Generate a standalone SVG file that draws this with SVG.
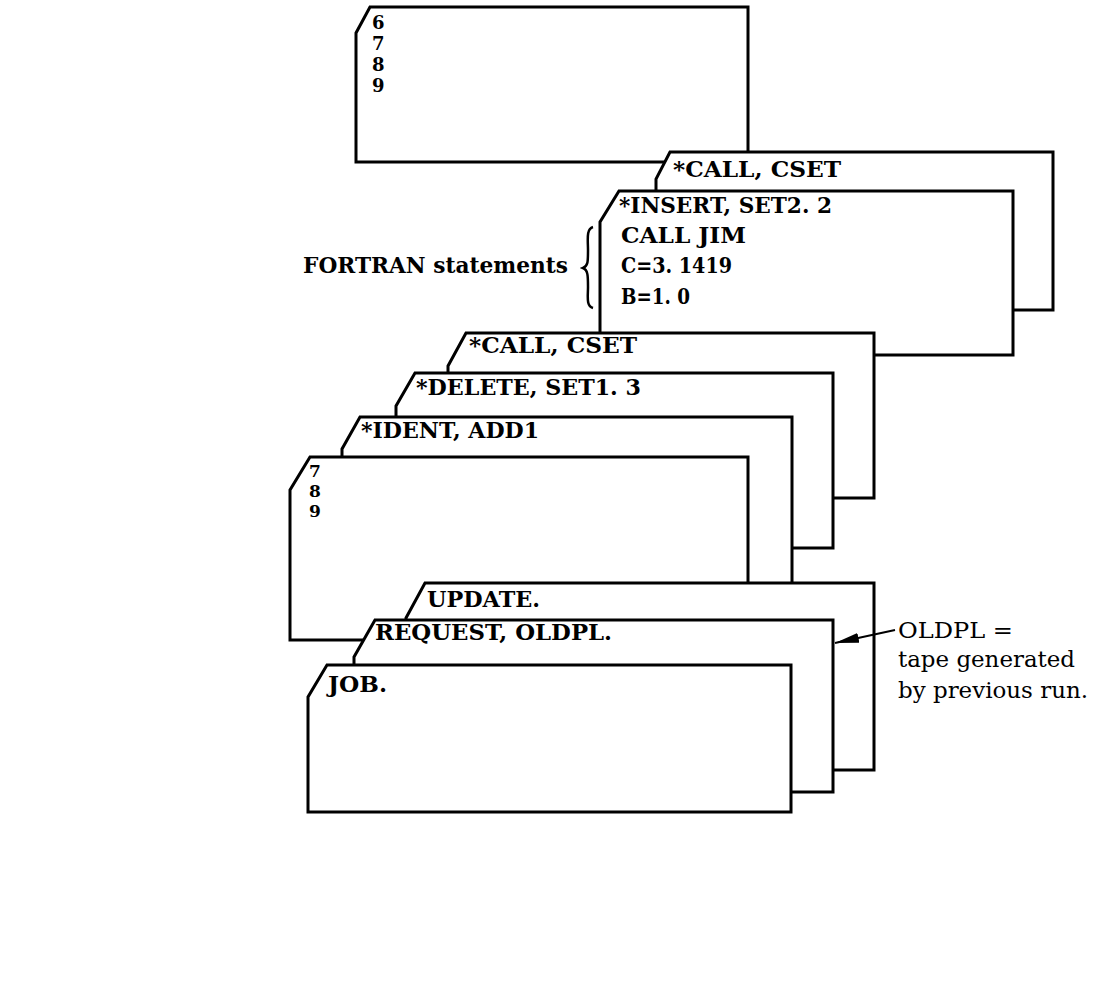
<svg xmlns="http://www.w3.org/2000/svg" width="1112" height="984" viewBox="0 0 1112 984">
<defs>
<style>
.card{fill:#fff;stroke:#000;stroke-width:3;stroke-linejoin:miter}
.t{font-family:"DejaVu Serif","Liberation Serif",serif;font-weight:bold;font-size:23px;fill:#000}
.d{font-family:"DejaVu Serif","Liberation Serif",serif;font-weight:bold;font-size:18px;fill:#000}
.d2{font-family:"DejaVu Serif","Liberation Serif",serif;font-weight:bold;font-size:17px;fill:#000}
.r{font-family:"DejaVu Serif","Liberation Serif",serif;font-size:22px;fill:#000}
.ln{fill:none;stroke:#000;stroke-width:2.5}
</style>
<marker id="ah" markerUnits="userSpaceOnUse" markerWidth="26" markerHeight="12" refX="24" refY="5" orient="auto">
<path d="M0,0 L24,5 L0,10 Z" fill="#000"/>
</marker>
</defs>
<rect width="1112" height="984" fill="#fff"/>
<g id="card-6789">
<path class="card" d="M370,7 L748,7 L748,162 L356,162 L356,33 Z"/>
<text class="d" x="372" y="29">6</text>
<text class="d" x="372" y="50">7</text>
<text class="d" x="372" y="71">8</text>
<text class="d" x="372" y="92">9</text>
</g>
<g id="card-call-upper">
<path class="card" d="M670,152 L1053,152 L1053,310 L656,310 L656,179 Z"/>
<text class="t" x="673" y="177" textLength="168" lengthAdjust="spacingAndGlyphs">*CALL, CSET</text>
</g>
<g id="card-insert">
<path class="card" d="M619,191 L1013,191 L1013,355 L600,355 L600,222 Z"/>
<text class="t" x="619" y="213" textLength="213" lengthAdjust="spacingAndGlyphs">*INSERT, SET2. 2</text>
<text class="t" x="621" y="243" textLength="125" lengthAdjust="spacingAndGlyphs">CALL JIM</text>
<text class="t" x="621" y="273" textLength="111" lengthAdjust="spacingAndGlyphs">C=3. 1419</text>
<text class="t" x="621" y="304" textLength="69" lengthAdjust="spacingAndGlyphs">B=1. 0</text>
</g>
<g id="fortran-label">
<text class="t" x="303" y="273" textLength="265" lengthAdjust="spacingAndGlyphs">FORTRAN statements</text>
<path class="ln" d="M593,227 C586,229 588,240 588,250 C588,262 588,266 583,268 C588,270 588,276 588,287 C588,297 586,306 593,308"/>
</g>
<g id="card-call-lower">
<path class="card" d="M466,333 L874,333 L874,498 L448,498 L448,366 Z"/>
<text class="t" x="469" y="353" textLength="168" lengthAdjust="spacingAndGlyphs">*CALL, CSET</text>
</g>
<g id="card-delete">
<path class="card" d="M415,373 L833,373 L833,548 L396,548 L396,406 Z"/>
<text class="t" x="416" y="395" textLength="225" lengthAdjust="spacingAndGlyphs">*DELETE, SET1. 3</text>
</g>
<g id="card-ident">
<path class="card" d="M360,417 L792,417 L792,600 L342,600 L342,449 Z"/>
<text class="t" x="361" y="438" textLength="178" lengthAdjust="spacingAndGlyphs">*IDENT, ADD1</text>
</g>
<g id="card-789">
<path class="card" d="M310,457 L748,457 L748,640 L290,640 L290,490 Z"/>
<text class="d2" x="309" y="477">7</text>
<text class="d2" x="309" y="497">8</text>
<text class="d2" x="309" y="517">9</text>
</g>
<g id="card-update">
<path class="card" d="M425,583 L874,583 L874,770 L406,770 L406,618 Z"/>
<text class="t" x="427" y="607" textLength="113" lengthAdjust="spacingAndGlyphs">UPDATE.</text>
</g>
<g id="card-request">
<path class="card" d="M375,620 L833,620 L833,792 L354,792 L354,657 Z"/>
<text class="t" x="375" y="640" textLength="237" lengthAdjust="spacingAndGlyphs">REQUEST, OLDPL.</text>
</g>
<g id="card-job">
<path class="card" d="M327,665 L791,665 L791,812 L308,812 L308,697 Z"/>
<text class="t" x="328" y="692" textLength="59" lengthAdjust="spacingAndGlyphs">JOB.</text>
</g>
<g id="oldpl-label">
<text class="r" x="898" y="638" textLength="115" lengthAdjust="spacingAndGlyphs">OLDPL =</text>
<text class="r" x="898" y="667" textLength="177" lengthAdjust="spacingAndGlyphs">tape generated</text>
<text class="r" x="898" y="698" textLength="190" lengthAdjust="spacingAndGlyphs">by previous run.</text>
</g>
<g id="connectors">
<line x1="895" y1="630" x2="835" y2="643" stroke="#000" stroke-width="2" marker-end="url(#ah)"/>
</g>
</svg>
